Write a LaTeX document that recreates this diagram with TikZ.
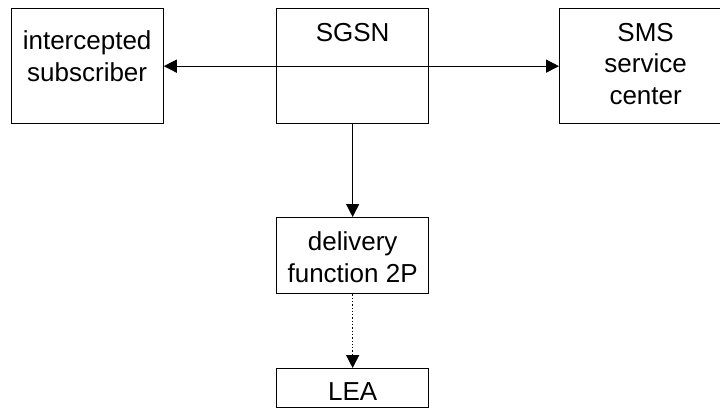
\documentclass[tikz,border=0pt]{standalone}
\usepackage{fontspec}
\setmainfont{Liberation Sans}
\usetikzlibrary{arrows.meta,calc}

\begin{document}
\begin{tikzpicture}[x=1pt,y=-1pt,line width=1.3pt,
	box/.style={draw,rectangle,anchor=north west,inner sep=0pt,minimum width=152pt},
	txt/.style={anchor=base,align=center,inner sep=0pt,font=\fontsize{26}{31.5}\selectfont},
	arr/.style={-{Triangle[length=13pt,width=13pt]}},
	darr/.style={{Triangle[length=13pt,width=13pt]}-{Triangle[length=13pt,width=13pt]}}]
	\useasboundingbox (0,0) rectangle (720,407);
	% boxes
	\node[box,minimum height=115pt] (sub) at (10.5,8) {};
	\node[box,minimum height=115pt] (sgsn) at (276,8) {};
	\node[box,minimum height=115pt,minimum width=172pt] (smsc) at (559,8) {};
	\node[box,minimum height=76pt] (df) at (276,217) {};
	\node[box,minimum height=38.5pt] (lea) at (276,368) {};
	% texts (base = last line)
	\node[txt] (subt) at ($(sub.north)+(0,73)$) {intercepted\\subscriber};
	\node[txt] (sgsnt) at ($(sgsn.north)+(0,33)$) {SGSN};
	\node[txt] (smsct) at ($(smsc.north)+(0,96)$) {SMS\\service\\center};
	\node[txt] (dft) at ($(df.north)+(0,65)$) {delivery\\function 2P};
	\node[txt] (leat) at ($(lea.north)+(0,32)$) {LEA};
	% connectors
	\draw[darr] (sub) -- (smsc);
	\draw[arr] (sgsn) -- (df);
	\draw[arr,dotted] (df) -- (lea);
\end{tikzpicture}
\end{document}
